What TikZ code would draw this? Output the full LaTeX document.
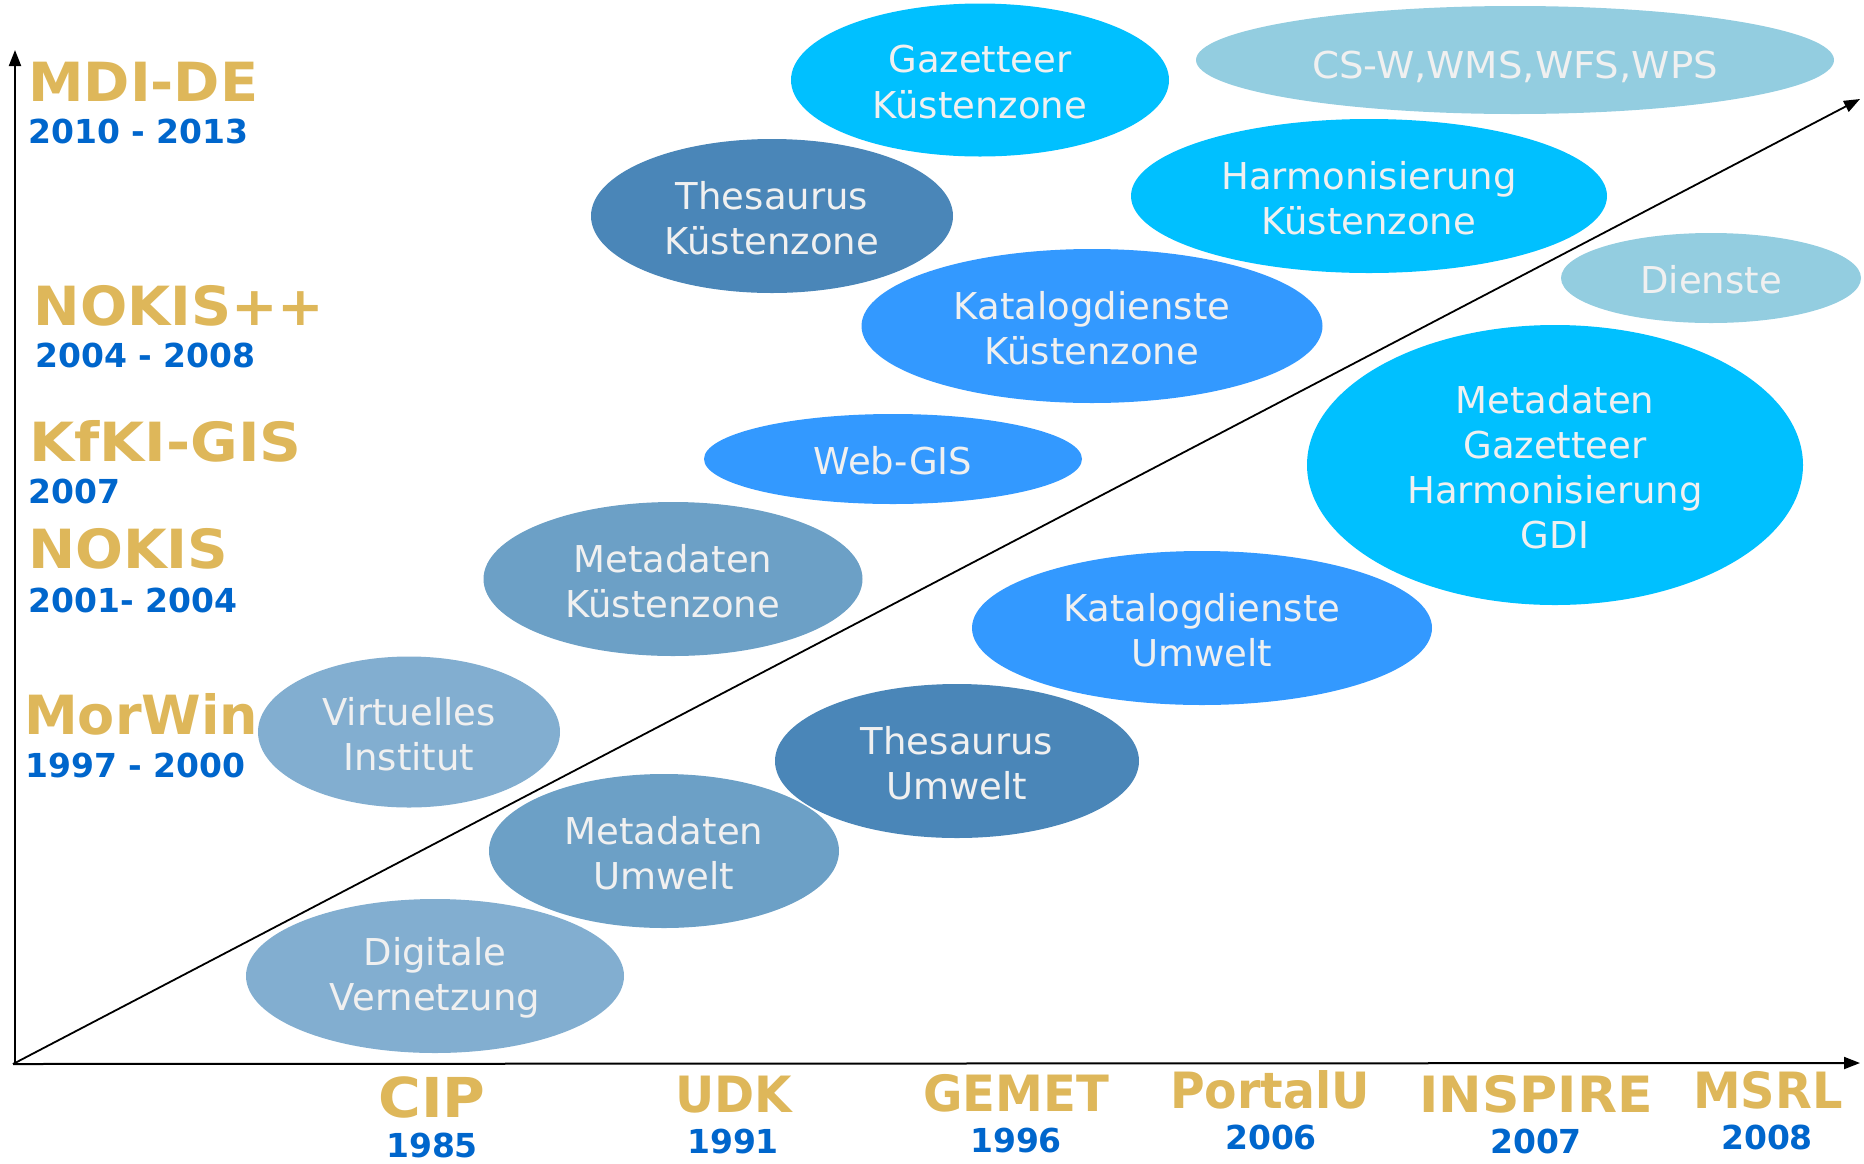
\documentclass[tikz,border=0pt]{standalone}
\usepackage{fontspec}
\setmainfont{DejaVu Sans}
\usetikzlibrary{shapes.geometric,arrows.meta}

\definecolor{gold}{RGB}{222,183,90}
\definecolor{yearblue}{RGB}{0,102,204}
\definecolor{skyfill}{RGB}{0,192,255}
\definecolor{brightfill}{RGB}{51,153,255}
\definecolor{steelfill}{RGB}{74,134,184}
\definecolor{midfill}{RGB}{108,160,198}
\definecolor{lightfill}{RGB}{130,174,208}
\definecolor{palefill}{RGB}{147,205,224}
\definecolor{bubbletext}{RGB}{240,240,240}

\tikzset{
  bubble/.style={ellipse, inner sep=0pt},
  bubbletxt/.style={inner sep=0pt, align=center, text=bubbletext,
    font=\fontsize{37}{45.2}\selectfont},
  project/.style={anchor=base west, text=gold, inner sep=0pt,
    font=\fontsize{54}{54}\selectfont\bfseries},
  period/.style={anchor=base west, text=yearblue, inner sep=0pt,
    font=\fontsize{33}{33}\selectfont\bfseries},
  standard/.style={anchor=base, text=gold, inner sep=0pt,
    font=\fontsize{50}{50}\selectfont\bfseries},
  stdyear/.style={anchor=base, text=yearblue, inner sep=0pt,
    font=\fontsize{33}{33}\selectfont\bfseries},
  axis/.style={line width=2pt, -{Triangle[length=16pt,width=12pt]}},
}

% horizontally stretched text
\newcommand{\hsq}[2]{\scalebox{#1}[1]{#2}}

% bubble: name, centre, text, fill, width, height
\newcommand{\bub}[6]{%
  \node[bubble, fill=#4, minimum width=#5pt, minimum height=#6pt] (#1) at #2 {};
  \node[bubbletxt] (#1-t) at ([yshift=-2pt]#1.center) {#3};}

\begin{document}
\begin{tikzpicture}[x=1pt, y=-1pt]
\useasboundingbox (0,0) rectangle (1864,1163);

\bub{gazk}{(980,80)}{Gazetteer\\Küstenzone}{skyfill}{378}{153}
\node[bubble, fill=palefill, minimum width=638pt, minimum height=108pt] (csw) at (1515,60) {};
\node[bubbletxt] (csw-t) at ([yshift=-7pt]csw.center) {\hsq{1.045}{CS-W,WMS,WFS,WPS}};
\bub{thesk}{(772,216)}{Thesaurus\\Küstenzone}{steelfill}{362}{154}
\bub{harmk}{(1369,196)}{Harmonisierung\\Küstenzone}{skyfill}{476}{154}
\bub{katk}{(1092,326)}{Katalogdienste\\Küstenzone}{brightfill}{461}{154}
\bub{dienste}{(1711,278)}{Dienste}{palefill}{300}{90}
\bub{gdi}{(1555,465)}{Metadaten\\Gazetteer\\Harmonisierung\\GDI}{skyfill}{496}{280}
\bub{webgis}{(893,459)}{Web-GIS}{brightfill}{378}{90}
\bub{metak}{(673,579)}{Metadaten\\Küstenzone}{midfill}{379}{154}
\bub{katu}{(1202,628)}{Katalogdienste\\Umwelt}{brightfill}{460}{154}
\bub{virt}{(409,732)}{Virtuelles\\Institut}{lightfill}{302}{151}
\bub{thesu}{(957,761)}{Thesaurus\\Umwelt}{steelfill}{364}{154}
\bub{metau}{(664,851)}{Metadaten\\Umwelt}{midfill}{350}{154}
\bub{digi}{(435,976)}{Digitale\\Vernetzung}{lightfill}{378}{154}

% axes and trend line
\coordinate (origin) at (13,1064);
\coordinate (ybase) at (15,1064);
\coordinate (ytip) at (15,50);
\coordinate (xtip) at (1860,1063);
\coordinate (dtip) at (1860,99);
\draw[axis] (ybase) -- (ytip);
\draw[axis] (origin) -- (xtip);
\draw[axis, line width=1.8pt] (origin) -- (dtip);

% projects along the vertical axis
\node[project] (mdi) at (28,101) {\hsq{1.033}{MDI-DE}};
\node[period] (mdiy) at (28,143) {2010 - 2013};
\node[project] (nokpp) at (33.5,325) {\hsq{1.03}{NOKIS++}};
\node[period] (nokppy) at (35,367) {2004 - 2008};
\node[project] (kfki) at (29,461) {\hsq{1.077}{KfKI-GIS}};
\node[period] (kfkiy) at (28,503) {2007};
\node[project] (nokis) at (28,568) {\hsq{1.044}{NOKIS}};
\node[period] (nokisy) at (28,612) {2001- 2004};
\node[project] (morwin) at (24,734) {MorWin};
\node[period] (morwiny) at (25,777) {1997 - 2000};

% standards along the horizontal axis
\node[standard, font=\fontsize{55}{55}\selectfont\bfseries] (cip) at (432,1117) {\hsq{1.06}{CIP}};
\node[stdyear] (cipy) at (432,1157) {1985};
\node[standard] (udk) at (734,1112) {\hsq{0.967}{UDK}};
\node[stdyear] (udky) at (733,1153) {1991};
\node[standard] (gemet) at (1016,1111) {\hsq{0.962}{GEMET}};
\node[stdyear] (gemety) at (1016,1152) {1996};
\node[standard] (portal) at (1270,1108) {\hsq{0.946}{PortalU}};
\node[stdyear] (portaly) at (1271,1149) {2006};
\node[standard] (inspire) at (1536,1112) {\hsq{1.04}{INSPIRE}};
\node[stdyear] (inspirey) at (1536,1153) {2007};
\node[standard] (msrl) at (1768,1108) {\hsq{0.957}{MSRL}};
\node[stdyear] (msrly) at (1767,1149) {2008};
\end{tikzpicture}
\end{document}
